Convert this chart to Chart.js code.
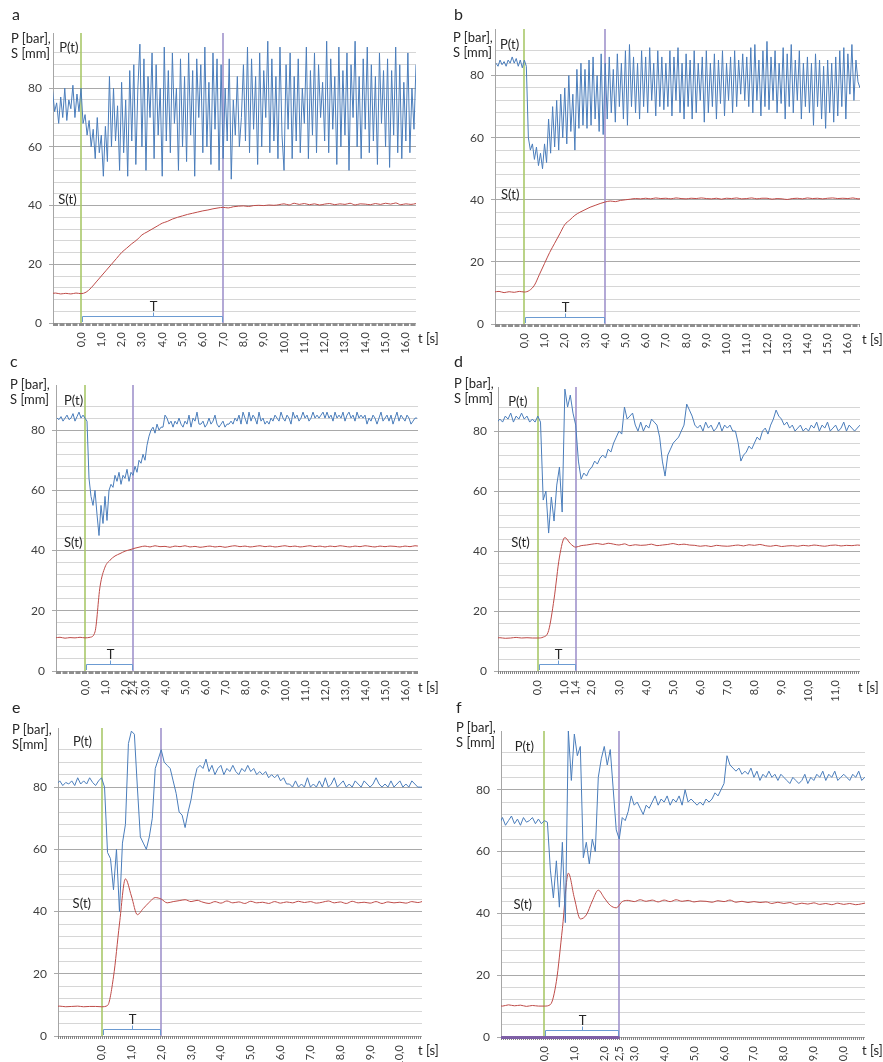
<!DOCTYPE html>
<html>
<head>
<meta charset="utf-8">
<title>P(t), S(t)</title>
<script src="https://cdn.jsdelivr.net/npm/chart.js@4.4.0/dist/chart.umd.min.js"></script>
<style>
  body { margin: 0; background: #fff; width: 883px; height: 1062px; position: relative; overflow: hidden; font-family: Lato, "Open Sans", sans-serif; color: #262626; }
  .box { position: absolute; }
  .letter { position: absolute; font-size: 16px; line-height: 16px; }
  .ytitle { position: absolute; font-size: 13px; line-height: 15px; white-space: nowrap; }
  .xtitle { position: absolute; font-size: 13px; line-height: 15px; white-space: nowrap; }
</style>
</head>
<body>

<div class="box" style="left:0;top:0;width:441px;height:360px"><canvas id="chartA"></canvas></div>
<div class="box" style="left:441px;top:0;width:442px;height:360px"><canvas id="chartB"></canvas></div>
<div class="box" style="left:0;top:340px;width:441px;height:368px"><canvas id="chartC"></canvas></div>
<div class="box" style="left:441px;top:340px;width:442px;height:368px"><canvas id="chartD"></canvas></div>
<div class="box" style="left:0;top:700px;width:441px;height:362px"><canvas id="chartE"></canvas></div>
<div class="box" style="left:441px;top:700px;width:442px;height:362px"><canvas id="chartF"></canvas></div>

<div class="letter" style="left:12px;top:6px">a</div>
<div class="ytitle" style="left:11px;top:31px">P [bar],<br>S [mm]</div>
<div class="xtitle" style="left:418px;top:331px">t [s]</div>

<div class="letter" style="left:454px;top:6px">b</div>
<div class="ytitle" style="left:453px;top:30px">P [bar],<br>S [mm]</div>
<div class="xtitle" style="left:862px;top:332px">t [s]</div>

<div class="letter" style="left:10px;top:353px">c</div>
<div class="ytitle" style="left:10px;top:377px">P [bar],<br>S [mm]</div>
<div class="xtitle" style="left:418px;top:680px">t [s]</div>

<div class="letter" style="left:454px;top:353px">d</div>
<div class="ytitle" style="left:454px;top:376px">P [bar],<br>S [mm]</div>
<div class="xtitle" style="left:858px;top:680px">t [s]</div>

<div class="letter" style="left:12px;top:699px">e</div>
<div class="ytitle" style="left:12px;top:722px">P [bar],<br>S[mm]</div>
<div class="xtitle" style="left:418px;top:1043px">t [s]</div>

<div class="letter" style="left:456px;top:699px">f</div>
<div class="ytitle" style="left:456px;top:720px">P [bar],<br>S [mm]</div>
<div class="xtitle" style="left:862px;top:1043px">t [s]</div>

<script>
// ---- data ----
// P series sampled every 0.1 s, S series coarser; first sample time given by *Start
var aPStart = -1.4, aPStep = 0.1;
var aP = [79,72,75,68,77,70,80,69,76,73,81,70,78,72,
  80,68,71,64,69,60,66,56,70,58,
  64,50,67,55,84,60,80,62,74,52,
  82,58,76,50,86,62,88,54,80,95,
  60,90,52,84,70,92,56,88,64,80,
  50,94,62,86,58,92,68,80,52,90,
  60,84,55,92,64,86,50,90,70,88,
  58,94,60,82,54,92,66,90,52,88,
  56,80,62,90,49,76,64,84,60,70,
  88,62,94,58,90,66,84,54,92,60,
  86,70,96,58,90,62,84,56,94,64,
  52,88,66,92,56,84,62,90,58,80,
  68,94,56,86,64,92,58,88,70,82,
  62,96,58,90,66,84,54,94,60,86,
  64,92,52,88,70,96,60,84,56,90,
  66,94,58,88,62,84,54,92,68,86,
  60,90,53,86,64,94,58,88,56,82,
  62,92,58,80,66,88];
var aSStart = -1.5, aSStep = 0.25;
var aS = [10,10.2,9.9,10.1,9.9,10.2,
  10,10.5,12,14, 16,18,20,22, 24,25.5,27,28.3, 30,31,32,33,
  34,34.6,35.4,36, 36.5,37,37.4,37.8, 38.2,38.5,38.9,39.2, 39.4,39.2,39.6,39.8,
  39.9,39.7,40,40.1, 40,40.2,40.1,40.3, 40.6,40.2,40.8,40.4, 40.7,40.3,40.6,40.2,
  40.5,40.7,40.3,40.6, 40.4,40.8,40.2,40.6, 40.5,40.3,40.7,40.4, 40.8,40.5,40.9,40.3,
  40.6,40.4,40.7];
var aT = 7.0;
var aTicks = [0,1,2,3,4,5,6,7,8,9,10,11,12,13,14,15,16];

var bPStart = -1.4, bPStep = 0.1;
var bP = [84,83,85,83.5,84.5,83,85,84,86,84,85.5,83,85,82.5,
  85,83,60,56,58,53,57,51,55,50,
  58,52,66,55,70,57,72,56,74,60,
  76,58,80,62,74,56,82,63,84,64,
  82,63,85,64,86,66,80,62,87,61,
  84,66,86,68,82,65,87,70,84,66,
  88,64,90,70,86,68,84,66,88,70,
  86,68,89,72,84,67,88,70,86,69,
  84,70,88,67,86,72,89,68,84,66,
  87,70,85,66,88,68,84,72,86,65,
  88,68,84,70,87,66,85,71,88,67,
  84,72,86,68,88,70,85,74,87,72,
  86,70,89,68,90,72,85,67,88,70,
  91,69,86,72,88,68,84,71,89,66,
  87,70,90,68,85,72,88,66,84,70,
  86,68,84,64,87,70,85,66,83,63,
  85,68,84,65,86,67,88,70,89,66,
  87,74,90,72,85,78,76];
var bSStart = -1.5, bSStep = 0.25;
var bS = [10.3,10.5,10.1,10.4,10.2,10.5,
  10.3,10.8,12.5,16, 19.5,23,26,29, 32,33.5,35,36, 36.8,37.6,38.2,38.8,
  39.3,39.6,39.4,39.8, 40,40.2,40.4,40.3, 40.5,40.3,40.6,40.4, 40.5,40.3,40.6,40.4,
  40.3,40.5,40.4,40.6, 40.4,40.3,40.5,40.2, 40.5,40.4,40.6,40.3, 40.4,40.6,40.3,40.5,
  40.5,40.2,40.4,40.3, 40.1,40.4,40.5,40.3, 40.6,40.4,40.5,40.3, 40.5,40.6,40.4,40.5,
  40.4,40.6,40.3,40.4];
var bT = 4.0;
var bTicks = [0,1,2,3,4,5,6,7,8,9,10,11,12,13,14,15,16];

var cPStart = -1.4, cPStep = 0.1;
var cP = [84,83.5,84.5,83,84,85,83.5,84,85.5,83,84.5,86,84,85,
  84,83,64,58,55,60,52,45,55,49,
  58,50,60,62,61,65,63,66,62,65,
  64,67,63,66,65,68,66,70,69,72,
  70,75,78,80,81,79,82,80,81,81,
  85,84,82,83,81,83,82,84,82,81,
  83,82,85,81,84,83,86,82,82,83,
  81,82,84,82,83,85,82,81,82,83,
  81,82,82,83,82,84,83,85,82,86,
  84,82,86,83,85,84,82,86,83,84,
  82,83,82,84,83,85,84,83,86,84,
  83,85,84,82,86,84,85,83,84,86,
  84,85,83,84,86,84,85,84,85,86,
  84,86,84,85,83,86,84,85,84,86,
  83,85,86,84,85,83,86,84,85,84,
  85,82,84,83,85,84,82,84,86,83,
  84,85,83,85,82,84,86,83,85,84,
  83,85,84,82,83,84,84];
var cSStart = -1.5, cSStep = 0.25;
var cS = [11,11.2,10.9,11.1,11,11.2,
  11,11.2,13,28, 34.5,36.8,38.2,39, 39.8,40.3,40.8,41.2,
  41.5,41.2,41.6,41.3, 41.4,41.1,41.5,41.3, 41.6,41.2,41.4,41.1, 41.3,41.5,41.2,41.4,
  41.1,41.4,41.6,41.3, 41.5,41.2,41.4,41.6, 41.3,41.5,41.2,41.4, 41.6,41.3,41.5,41.2,
  41.4,41.6,41.3,41.5, 41.2,41.5,41.3,41.6, 41.4,41.2,41.5,41.3, 41.6,41.4,41.2,41.5,
  41.3,41.5,41.4,41.2, 41.5,41.3,41.6,41.4];
var cT = 2.4;
var cTicks = [0,1,2,2.4,3,4,5,6,7,8,9,10,11,12,13,14,15,16];

var dPStart = -1.5, dPStep = 0.1;
var dP = [83,84,83,85,84,86,83,85,84,86,84,85,83,84,83,
  85,83,57,60,46,58,50,62,68,53,
  94,88,92,86,82,70,64,66,65,67,
  68,70,69,71,72,71,74,73,76,78,
  80,79,88,84,85,86,82,80,83,80,
  82,81,84,83,82,78,70,65,72,74,
  76,77,78,80,82,89,87,85,82,81,
  82,80,83,81,82,80,81,83,80,82,
  81,82,80,80,76,70,72,73,75,74,
  76,78,77,80,81,79,82,84,87,85,
  84,82,83,81,82,80,81,82,80,81,
  80,82,81,83,80,82,81,83,80,81,
  82,80,81,83,80,82,81,80,81,82];
var dSStart = -1.6, dSStep = 0.2;
var dS = [11,11.1,10.9,11,11.2,11,11.1,11,
  11,11.3,13.5,24,38,
  44.5,42.5,41.3,41.8,42, 42.3,42.5,42.2,42.6,42.3, 42,42.4,41.8,42.1,41.9,
  42,42.3,41.8,42,42.2, 42.5,42.1,42.3,42,41.9, 41.6,41.8,41.5,41.9,41.7,
  41.6,41.8,42,41.7,42.1, 41.9,42.2,41.8,41.6,41.9, 41.5,41.7,41.8,41.6,41.9,
  41.7,42,41.8,41.6,41.9, 42,41.7,41.9,41.8,42, 41.8];
var dT = 1.4;
var dTicks = [0,1,1.4,2,3,4,5,6,7,8,9,10,11];

var ePStart = -1.5, ePStep = 0.1;
var eP = [81,82,80.5,81.5,81,82,80.5,83,81,82,81,83,81.5,80.5,82,
  83,80,59,57,47,60,40,62,68,94,
  98,97,80,64,62,60,64,70,86,89,
  92,88,87,86,82,78,72,71,67,72,
  76,82,86,87,86,89,85,87,84,86,
  87,84,86,85,87,85,84,86,85,87,
  85,86,84,85,84,85,83,84,83,84,
  82,83,81,81,80,82,80,81,80,83,
  80,81,80,82,80,83,80,81,83,80,
  81,82,80,81,80,82,81,80,82,81,
  80,81,83,81,80,81,80,82,80,81,
  82,80,81,80,82,81,80,80,80];
var eSStart = -1.6, eSStep = 0.2;
var eS = [9.5,9.6,9.4,9.5,9.6,9.4,9.5,9.5,
  9.4,9.8,19,36,50.5, 45,39,41,43,44.5, 44,42.8,43.2,43.5,43.8,
  43.2,43.6,43,42.6,43.2, 42.7,43.4,42.8,43.1,42.6, 43.3,42.8,43,42.6,43.2,
  42.7,43.1,42.8,43.3,42.9, 43.2,42.7,43,43.4,42.8, 43.1,42.6,43.3,42.8,43,
  42.7,43.2,42.6,43.1,42.8, 43,42.7,43.2,42.9,43.4];
var eT = 2.0;
var eTicks = [0,1,2,3,4,5,6,7,8,9,10];

var fPStart = -1.5, fPStep = 0.1;
var fP = [69,71,68.5,70,71.5,69,70.5,68.5,71,69.5,70,71,69,70.5,69,
  70,69.5,54,45,57,42,63,37,99,83,
  98,91,94,58,63,56,64,60,84,90,
  94,88,93,80,67,64,71,70,73,78,
  75,76,74,72,75,74,76,78,75,77,
  76,78,75,77,76,78,75,80,76,77,
  76,75,76,75,77,76,77,79,78,80,
  82,91,88,87,86,87,85,86,85,87,
  84,86,83,85,84,86,84,85,83,85,
  84,83,82,84,83,82,83,85,82,84,
  83,85,84,86,83,85,84,86,83,84,
  85,84,83,85,84,86,83,84,83];
var fSStart = -1.6, fSStep = 0.2;
var fS = [10.2,10,10.4,10.1,10.3,9.9,10.2,10,
  10,10.5,18,35,53, 45,38.2,39.5,44,47.5, 45,42.6,41.8,43.8,44.2,
  43.8,44.4,43.9,44.3,43.7, 44.3,43.8,44.4,43.9,44.2, 43.7,44,43.9,43.6,44.1,
  43.8,44.3,43.6,43.9,43.5, 43.8,43.5,43.7,43.2,43.6, 43.2,43.5,42.9,43.3,43,
  43.4,42.9,43.2,42.8,43.3, 42.9,43.2,42.8,43.1,43.5];
var fT = 2.5;
var fTicks = [0,1,2,2.5,3,4,5,6,7,8,9,10];

// ---- drawing ----
var FONT = 'Lato, "Open Sans", sans-serif';
Chart.defaults.font.family = FONT;
Chart.defaults.color = '#404040';

function toPoints(values, start, step) {
    return values.map(function(v, i) {
        return { x: Math.round((start + i * step) * 100) / 100, y: v };
    });
}

// marker lines, T bracket, curve names and the hatched time axis
var decorPlugin = {
    id: 'decor',
    beforeDatasetsDraw: function(chart, args, o) {
        var ctx = chart.ctx, area = chart.chartArea, xs = chart.scales.x;
        var x0 = Math.round(xs.getPixelForValue(0));
        var x1 = Math.round(xs.getPixelForValue(o.T));
        ctx.save();
        ctx.lineWidth = 1.6;
        ctx.strokeStyle = '#a9c86a';
        ctx.beginPath(); ctx.moveTo(x0, area.top); ctx.lineTo(x0, area.bottom); ctx.stroke();
        ctx.strokeStyle = '#a093cc';
        ctx.beginPath(); ctx.moveTo(x1, area.top); ctx.lineTo(x1, area.bottom); ctx.stroke();
        ctx.restore();
    },
    afterDatasetsDraw: function(chart, args, o) {
        var ctx = chart.ctx, area = chart.chartArea, xs = chart.scales.x, ys = chart.scales.y;
        var y0 = Math.round(ys.getPixelForValue(0));
        var x0 = Math.round(xs.getPixelForValue(0)) + 0.5;
        var x1 = Math.round(xs.getPixelForValue(o.T)) + 0.5;
        ctx.save();
        // axis bar
        ctx.strokeStyle = o.barColor;
        ctx.lineWidth = 3;
        ctx.setLineDash(o.dash);
        ctx.beginPath(); ctx.moveTo(area.left, y0 + 1.5); ctx.lineTo(area.right, y0 + 1.5); ctx.stroke();
        ctx.setLineDash([]);
        if (o.purpleBar) {
            ctx.strokeStyle = '#7e5fa6';
            ctx.lineWidth = 3;
            ctx.beginPath(); ctx.moveTo(area.left, y0 + 0.5); ctx.lineTo(x1, y0 + 0.5); ctx.stroke();
        }
        // T bracket
        var by = y0 - 6.5, bx0 = x0 + 1, bx1 = x1 - 1, mid = Math.round((bx0 + bx1) / 2) + 0.5;
        ctx.strokeStyle = '#6c9bd2';
        ctx.lineWidth = 1;
        ctx.beginPath();
        ctx.moveTo(bx0, y0 - 1); ctx.lineTo(bx0, by); ctx.lineTo(bx1, by); ctx.lineTo(bx1, y0 - 1);
        ctx.moveTo(mid, by); ctx.lineTo(mid, by - 4);
        ctx.stroke();
        ctx.fillStyle = '#262626';
        ctx.font = '13px ' + FONT;
        ctx.textAlign = 'center';
        ctx.textBaseline = 'alphabetic';
        ctx.fillText('T', mid, by - 6);
        // curve names
        ctx.textAlign = 'left';
        ctx.textBaseline = 'middle';
        ctx.fillText('P(t)', xs.getPixelForValue(o.pLabel[0]), ys.getPixelForValue(o.pLabel[1]));
        ctx.fillText('S(t)', xs.getPixelForValue(o.sLabel[0]), ys.getPixelForValue(o.sLabel[1]));
        ctx.restore();
    }
};

function makePanel(id, cfg) {
    var ctx = document.getElementById(id).getContext('2d');
    return new Chart(ctx, {
        type: 'line',
        data: {
            datasets: [
                {
                    label: 'P(t)',
                    data: toPoints(cfg.p, cfg.pStart, cfg.pStep),
                    borderColor: '#4a7dbb',
                    borderWidth: 1,
                    pointRadius: 0,
                    tension: 0
                },
                {
                    label: 'S(t)',
                    data: toPoints(cfg.s, cfg.sStart, cfg.sStep),
                    borderColor: '#be4b48',
                    borderWidth: 1,
                    pointRadius: 0,
                    cubicInterpolationMode: 'monotone'
                }
            ]
        },
        options: {
            responsive: true,
            maintainAspectRatio: false,
            animation: false,
            layout: { padding: { top: cfg.padTop, right: cfg.padRight, left: 0, bottom: 0 } },
            plugins: {
                legend: { display: false },
                tooltip: { enabled: false },
                decor: cfg.decor
            },
            scales: {
                x: {
                    type: 'linear',
                    min: cfg.xMin,
                    max: cfg.xMax,
                    afterBuildTicks: function(scale) {
                        scale.ticks = cfg.ticks.map(function(v) { return { value: v }; });
                    },
                    afterFit: function(scale) { scale.height = cfg.xh; },
                    grid: { display: false, drawTicks: false },
                    border: { display: false },
                    ticks: {
                        autoSkip: false,
                        maxRotation: 90,
                        minRotation: 90,
                        padding: 9,
                        color: '#404040',
                        font: { size: 11 },
                        callback: function(v) { return v.toFixed(1).replace('.', ','); }
                    }
                },
                y: {
                    min: 0,
                    max: cfg.yMax,
                    afterFit: function(scale) { scale.width = cfg.yw; },
                    border: { display: true, color: '#a6a6a6', width: 1 },
                    grid: {
                        drawTicks: true,
                        tickLength: 4,
                        color: function(c) {
                            var v = c.tick.value;
                            if (v % 20 === 0) return '#a9a9a9';
                            if (v % 4 === 0) return '#d6d6d6';
                            return 'rgba(0,0,0,0)';
                        },
                        tickColor: function(c) {
                            return c.tick.value % 20 === 0 ? '#a9a9a9' : 'rgba(0,0,0,0)';
                        }
                    },
                    ticks: {
                        autoSkip: false,
                        stepSize: 4,
                        padding: 7,
                        color: '#404040',
                        font: { size: 12 },
                        callback: function(v) { return v % 20 === 0 ? v : ''; }
                    }
                }
            }
        },
        plugins: [decorPlugin]
    });
}

makePanel('chartA', {
    p: aP, pStart: aPStart, pStep: aPStep, s: aS, sStart: aSStart, sStep: aSStep,
    ticks: aTicks, xMin: -1.38, xMax: 16.5, yMax: 98.8,
    padTop: 33, padRight: 25, yw: 53, xh: 37,
    decor: { T: aT, dash: [5, 1.5], barColor: '#8e8e8e', pLabel: [-1.07, 93.9], sLabel: [-1.12, 42.1] }
});
makePanel('chartB', {
    p: bP, pStart: bPStart, pStep: bPStep, s: bS, sStart: bSStart, sStep: bSStep,
    ticks: bTicks, xMin: -1.45, xMax: 16.6, yMax: 95,
    padTop: 29, padRight: 23, yw: 54, xh: 36,
    decor: { T: bT, dash: [5, 1.5], barColor: '#8e8e8e', pLabel: [-1.2, 90], sLabel: [-1.15, 41.5] }
});
makePanel('chartC', {
    p: cP, pStart: cPStart, pStep: cPStep, s: cS, sStart: cSStart, sStep: cSStep,
    ticks: cTicks, xMin: -1.45, xMax: 16.65, yMax: 95,
    padTop: 45, padRight: 23, yw: 56, xh: 37,
    decor: { T: cT, dash: [5, 1.5], barColor: '#8e8e8e', pLabel: [-1.05, 89.6], sLabel: [-1.05, 42.5] }
});
makePanel('chartD', {
    p: dP, pStart: dPStart, pStep: dPStep, s: dS, sStart: dSStart, sStep: dSStep,
    ticks: dTicks, xMin: -1.47, xMax: 11.9, yMax: 94.7,
    padTop: 47, padRight: 23, yw: 57, xh: 37,
    decor: { T: dT, dash: [1, 1], barColor: '#858585', pLabel: [-1.09, 89.6], sLabel: [-0.98, 42.6] }
});
makePanel('chartE', {
    p: eP, pStart: ePStart, pStep: ePStep, s: eS, sStart: eSStart, sStep: eSStep,
    ticks: eTicks, xMin: -1.46, xMax: 10.74, yMax: 99,
    padTop: 28, padRight: 19, yw: 58, xh: 26,
    decor: { T: eT, dash: [1, 1], barColor: '#858585', pLabel: [-0.96, 94.5], sLabel: [-0.97, 42.4] }
});
makePanel('chartF', {
    p: fP, pStart: fPStart, pStep: fPStep, s: fS, sStart: fSStart, sStep: fSStep,
    ticks: fTicks, xMin: -1.45, xMax: 10.71, yMax: 99,
    padTop: 31, padRight: 18, yw: 60, xh: 25,
    decor: { T: fT, dash: [1, 1], barColor: '#858585', purpleBar: true, pLabel: [-0.99, 94], sLabel: [-1.03, 42.8] }
});
</script>
</body>
</html>
